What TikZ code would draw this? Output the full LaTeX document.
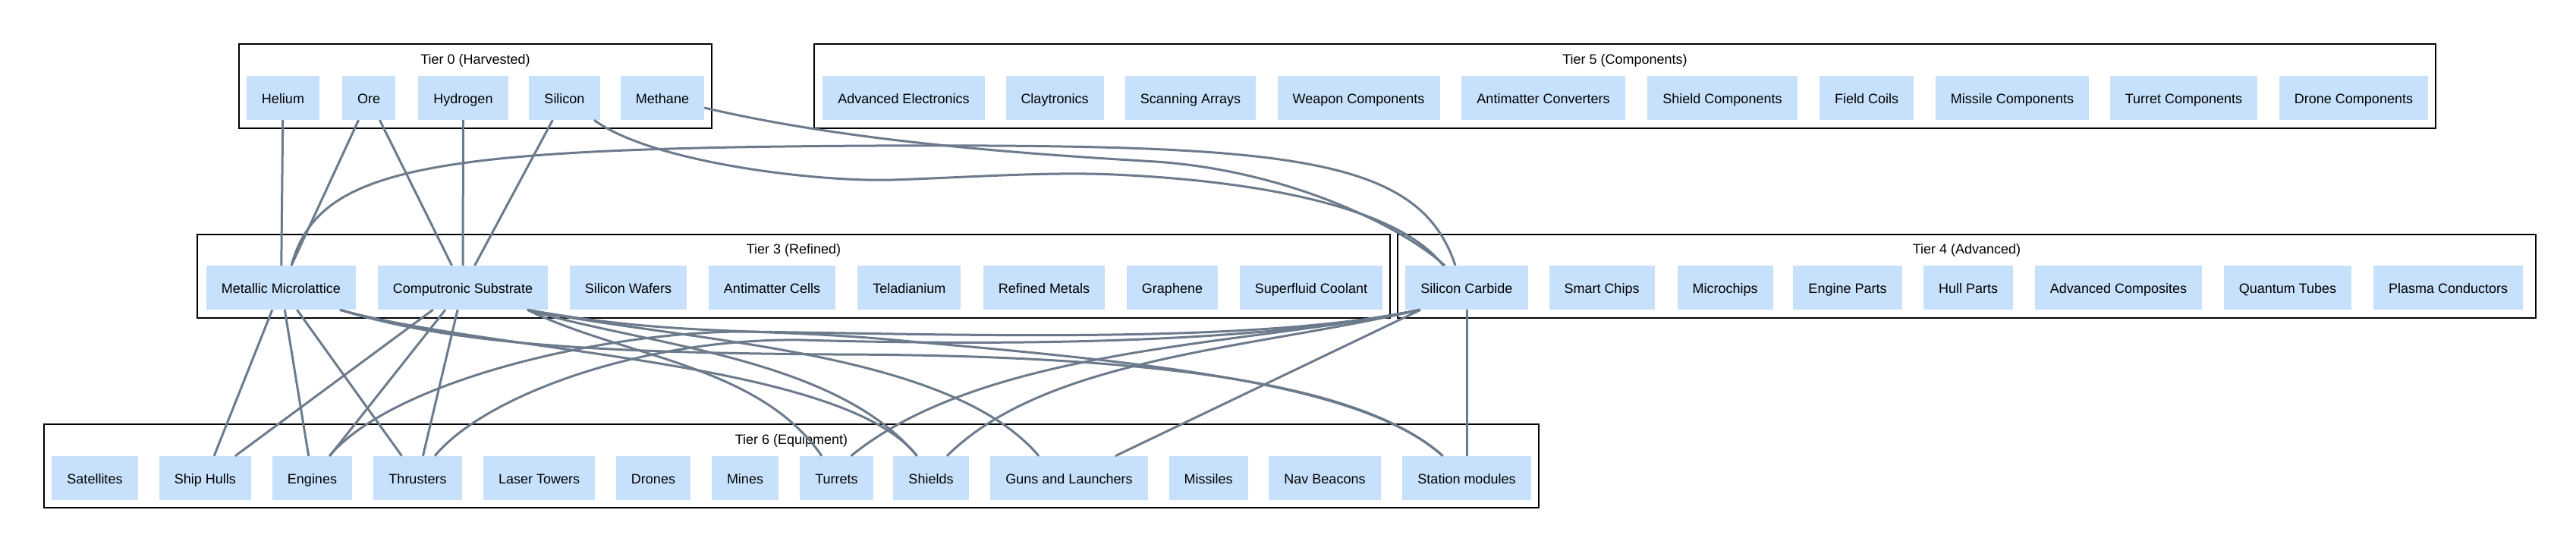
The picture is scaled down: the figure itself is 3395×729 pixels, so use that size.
\documentclass[tikz,border=0pt]{standalone}
\usepackage{fontspec}
\newfontfamily\nfont{Liberation Sans}
\definecolor{nodeblue}{RGB}{199,225,252}
\definecolor{edgegray}{RGB}{108,123,140}
\tikzset{
  nd/.style={fill=nodeblue, minimum height=58pt, inner xsep=20pt, inner ysep=0pt, text height=14pt, text depth=0pt, font=\nfont\fontsize{18}{20}\selectfont, text=black},
  ttl/.style={inner sep=0pt, text height=14pt, text depth=0pt, font=\nfont\fontsize{18}{20}\selectfont, text=black},
  cluster/.style={draw=black, line width=1.6pt},
  edge/.style={draw=edgegray, line width=3pt}
}
\begin{document}
\begin{tikzpicture}[x=1pt,y=-1pt]
\useasboundingbox (0,0) rectangle (3395,729);
\fill[white] (0,0) rectangle (3395,729);
% clusters
\draw[cluster] (315,58) rectangle (938,169);
\draw[cluster] (1073,58) rectangle (3210,169);
\draw[cluster] (260,309) rectangle (1832,419);
\draw[cluster] (1842,309) rectangle (3342,419);
\draw[cluster] (58,559) rectangle (2028,669);
\node[ttl] (t0) at (626.5,77) {Tier 0 (Harvested)};
\node[ttl] (t5) at (2141.5,77) {Tier 5 (Components)};
\node[ttl] (t3) at (1046,327.5) {Tier 3 (Refined)};
\node[ttl] (t4) at (2592,327.5) {Tier 4 (Advanced)};
\node[ttl] (t6) at (1043,578) {Tier 6 (Equipment)};
% tier 0
\node[nd] (he) at (373,129) {Helium};
\node[nd] (ore) at (486,129) {Ore};
\node[nd] (hy) at (610.5,129) {Hydrogen};
\node[nd] (si) at (744,129) {Silicon};
\node[nd] (me) at (873,129) {Methane};
% tier 5
\node[nd] (ae) at (1191,129) {Advanced Electronics};
\node[nd] (cl) at (1390,129) {Claytronics};
\node[nd] (sa) at (1569,129) {Scanning Arrays};
\node[nd] (wc) at (1790.6,129) {Weapon Components};
\node[nd] (ac) at (2034,129) {Antimatter Converters};
\node[nd] (shc) at (2270,129) {Shield Components};
\node[nd] (fc) at (2460,129) {Field Coils};
\node[nd] (mc) at (2652,129) {Missile Components};
\node[nd] (tc) at (2878,129) {Turret Components};
\node[nd] (dc) at (3102,129) {Drone Components};
% tier 3
\node[nd] (mm) at (370.5,379) {Metallic Microlattice};
\node[nd] (cs) at (610,379) {Computronic Substrate};
\node[nd] (sw) at (828,379) {Silicon Wafers};
\node[nd] (amc) at (1017.5,379) {Antimatter Cells};
\node[nd] (tel) at (1198.4,379) {Teladianium};
\node[nd] (rm) at (1376,379) {Refined Metals};
\node[nd] (gr) at (1545,379) {Graphene};
\node[nd] (sfc) at (1728,379) {Superfluid Coolant};
% tier 4
\node[nd] (sic) at (1933,379) {Silicon Carbide};
\node[nd] (smc) at (2111,379) {Smart Chips};
\node[nd] (mch) at (2273.6,379) {Microchips};
\node[nd] (ep) at (2435,379) {Engine Parts};
\node[nd] (hp) at (2594,379) {Hull Parts};
\node[nd] (acomp) at (2792,379) {Advanced Composites};
\node[nd] (qt) at (3015,379) {Quantum Tubes};
\node[nd] (pc) at (3226.7,379) {Plasma Conductors};
% tier 6
\node[nd] (sat) at (125,630) {Satellites};
\node[nd] (sh) at (270.5,630) {Ship Hulls};
\node[nd] (eng) at (411.5,630) {Engines};
\node[nd] (thr) at (550.5,630) {Thrusters};
\node[nd] (lt) at (710.6,630) {Laser Towers};
\node[nd] (dr) at (861,630) {Drones};
\node[nd] (mi) at (982,630) {Mines};
\node[nd] (tur) at (1102.5,630) {Turrets};
\node[nd] (shl) at (1227,630) {Shields};
\node[nd] (gun) at (1409,630) {Guns and Launchers};
\node[nd] (mis) at (1592.6,630) {Missiles};
\node[nd] (nb) at (1746,630) {Nav Beacons};
\node[nd] (stm) at (1933,630) {Station modules};
% upper edges
\draw[edge] (he) -- (mm);
\draw[edge] (ore) -- (mm);
\draw[edge] (ore) -- (cs);
\draw[edge] (hy) -- (cs);
\draw[edge] (si) -- (cs);
\draw[edge] ([xshift=39pt]si.south) .. controls (860,215) and (1080,240) .. (1176,237)
  .. controls (1270,234) and (1380,226) .. (1468,230)
  .. controls (1650,238) and (1840,270) .. ([xshift=-31pt]sic.north);
\draw[edge] ([yshift=-13pt]me.east) .. controls (1100,182) and (1300,200) .. (1523,213)
  .. controls (1700,225) and (1850,300) .. ([xshift=-29pt]sic.north);
\draw[edge] ([xshift=13.5pt]mm.north) .. controls (420,220) and (560,195) .. (1154,192)
  .. controls (1700,190) and (1870,205) .. ([xshift=-15pt]sic.north);
% lower straight edges
\draw[edge] (mm) -- (sh);
\draw[edge] (mm) -- (eng);
\draw[edge] (mm) -- (thr);
\draw[edge] (cs) -- (sh);
\draw[edge] (cs) -- (eng);
\draw[edge] (cs) -- (thr);
\draw[edge] (sic) -- (stm);
\draw[edge] (sic) -- (gun);
% lower curved edges from Metallic Microlattice
\draw[edge] ([xshift=77.5pt]mm.south) .. controls (650,465) and (1110,475) .. ([xshift=-18.4pt]shl.north);
\draw[edge] ([xshift=77.5pt]mm.south) .. controls (600,455) and (800,465) .. (1100,467)
  .. controls (1550,468) and (1800,510) .. ([xshift=-31.4pt]stm.north);
% from Computronic Substrate
\draw[edge] ([xshift=85pt]cs.south) .. controls (820,470) and (1000,480) .. ([xshift=-19.5pt]tur.north);
\draw[edge] ([xshift=85pt]cs.south) .. controls (850,455) and (1100,470) .. ([xshift=-18.4pt]shl.north);
\draw[edge] ([xshift=85pt]cs.south) .. controls (900,450) and (1250,460) .. ([xshift=-40pt]gun.north);
\draw[edge] ([xshift=85pt]cs.south) .. controls (900,445) and (1000,430) .. (1200,450)
  .. controls (1550,480) and (1800,510) .. ([xshift=-31.4pt]stm.north);
% from Silicon Carbide
\draw[edge] ([xshift=-62pt]sic.south) .. controls (1650,455) and (1250,440) .. (980,437)
  .. controls (800,437) and (520,500) .. ([xshift=22.5pt]eng.north);
\draw[edge] ([xshift=-62pt]sic.south) .. controls (1650,455) and (1300,455) .. (1057,448)
  .. controls (850,445) and (640,520) .. ([xshift=22.5pt]thr.north);
\draw[edge] ([xshift=-62pt]sic.south) .. controls (1650,455) and (1300,455) .. ([xshift=19pt]tur.north);
\draw[edge] ([xshift=-62pt]sic.south) .. controls (1650,460) and (1380,470) .. ([xshift=21pt]shl.north);
\end{tikzpicture}
\end{document}
